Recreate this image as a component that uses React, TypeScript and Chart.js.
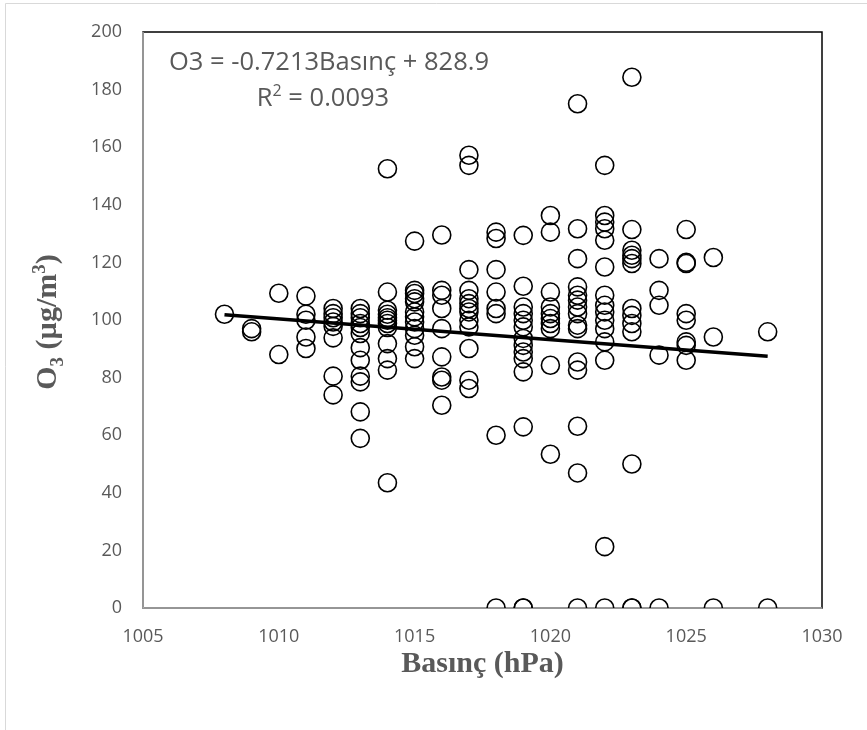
import React, { useEffect, useRef } from "react";
import { Chart, registerables } from "chart.js";

Chart.register(...registerables);

// Pressure levels (hPa) and the O3 readings (µg/m³) observed at each level
const pressureLevels = [1008, 1009, 1010, 1011, 1012, 1013, 1014, 1015, 1016, 1017, 1018, 1019, 1020, 1021, 1022, 1023, 1024, 1025, 1026, 1028];

const ozoneAtLevel: number[][] = [
  [102],
  [97, 95.9],
  [109.3, 88],
  [108.3, 102, 99.9, 94.1, 90.1],
  [104, 102.2, 100.8, 99.3, 97.8, 93.8, 80.5, 74],
  [104, 102.2, 100.8, 98.8, 97.4, 95.3, 90.4, 86, 80.5, 78.5, 68.1, 58.9],
  [152.5, 109.7, 103.4, 102, 100.8, 99.9, 98.8, 97.4, 91.8, 86.6, 82.6, 43.5],
  [127.4, 110.3, 109.2, 107.4, 106.3, 102.8, 101.1, 99.3, 97, 94.7, 90.7, 86.6],
  [129.5, 110.3, 108.6, 104, 97, 87.2, 80.2, 79.1, 70.4],
  [157.2, 153.7, 117.5, 110.3, 107.4, 105.7, 104, 102.8, 99.9, 97.6, 90.1, 79.1, 76.2],
  [130.5, 128.3, 117.5, 109.7, 104, 102.2, 60, 0],
  [129.4, 111.7, 104.5, 102.2, 99.9, 97.6, 93.6, 91.2, 88.9, 86.6, 82, 62.9, 0, 0],
  [136.3, 130.5, 109.7, 104.5, 102.2, 100.5, 98.8, 97, 84.3, 53.4],
  [175.1, 131.7, 121.3, 111.5, 108.6, 106.9, 104.5, 102.2, 98.2, 97, 85.4, 82.6, 63.1, 46.9, 0],
  [153.7, 136.3, 134, 131.7, 127.7, 118.4, 108.6, 105.1, 102.8, 99.9, 97, 92.4, 86, 21.3, 0],
  [184.3, 131.4, 124.2, 122.5, 121.3, 119.6, 104, 101.6, 98.8, 95.9, 50, 0, 0],
  [121.3, 110.3, 105.1, 87.8, 0],
  [131.4, 120, 119.6, 102.2, 99.9, 92.4, 91.2, 86],
  [121.7, 94.1, 0],
  [95.9, 0],
];

// Linear trend line reported on the chart
const trendSlope = -0.7213;
const trendIntercept = 828.9;
const equationText = "O3 = -0.7213Basınç + 828.9";
const rSquaredLabel = "R";
const rSquaredValue = " = 0.0093";

const xTicks = [1005, 1010, 1015, 1020, 1025, 1030];
const yTicks = [0, 20, 40, 60, 80, 100, 120, 140, 160, 180, 200];

const xTitle = "Basınç (hPa)";

const GRAY = "#595959";

export default function App() {
  const canvasRef = useRef<HTMLCanvasElement | null>(null);

  useEffect(() => {
    const canvas = canvasRef.current;
    if (!canvas) return;

    const points: { x: number; y: number }[] = [];
    pressureLevels.forEach((p, i) => {
      ozoneAtLevel[i].forEach((v) => points.push({ x: p, y: v }));
    });
    const minP = Math.min(...pressureLevels);
    const maxP = Math.max(...pressureLevels);
    const trend = [
      { x: minP, y: trendSlope * minP + trendIntercept },
      { x: maxP, y: trendSlope * maxP + trendIntercept },
    ];

    const decorPlugin = {
      id: "decor",
      beforeDraw(chart: any) {
        const { ctx, chartArea } = chart;
        ctx.save();
        ctx.fillStyle = "#ffffff";
        ctx.fillRect(0, 0, chart.width, chart.height);
        // faint outer frame
        ctx.strokeStyle = "#d9d9d9";
        ctx.lineWidth = 1;
        ctx.beginPath();
        ctx.moveTo(5.5, chart.height);
        ctx.lineTo(5.5, 3.5);
        ctx.lineTo(chart.width, 3.5);
        ctx.stroke();
        // plot area border
        ctx.strokeStyle = "#000000";
        ctx.lineWidth = 1.5;
        ctx.strokeRect(chartArea.left, chartArea.top, chartArea.right - chartArea.left, chartArea.bottom - chartArea.top);
        ctx.strokeStyle = "#b3b3b3";
        ctx.lineWidth = 1.5;
        ctx.beginPath();
        ctx.moveTo(chartArea.left, chartArea.top);
        ctx.lineTo(chartArea.left, chartArea.bottom);
        ctx.lineTo(chartArea.right, chartArea.bottom);
        ctx.stroke();
        ctx.restore();
      },
      afterDraw(chart: any) {
        const { ctx, chartArea } = chart;
        ctx.save();
        // equation
        ctx.fillStyle = GRAY;
        ctx.textBaseline = "alphabetic";
        ctx.textAlign = "center";
        ctx.font = '25.5px "Open Sans"';
        ctx.fillText(equationText, 329, 70);
        // R² line
        ctx.textAlign = "left";
        const wR = ctx.measureText(rSquaredLabel).width;
        ctx.font = '16px "Open Sans"';
        const w2 = ctx.measureText("2").width;
        ctx.font = '25.5px "Open Sans"';
        const wV = ctx.measureText(rSquaredValue).width;
        const x0 = 323 - (wR + w2 + wV) / 2;
        ctx.fillText(rSquaredLabel, x0, 106);
        ctx.font = '16px "Open Sans"';
        ctx.fillText("2", x0 + wR, 96);
        ctx.font = '25.5px "Open Sans"';
        ctx.fillText(rSquaredValue, x0 + wR + w2, 106);

        // X axis title
        ctx.textAlign = "center";
        ctx.font = 'bold 30px "Liberation Serif"';
        ctx.fillText(xTitle, (chartArea.left + chartArea.right) / 2, 672);

        // Y axis title with subscript/superscript
        ctx.textAlign = "left";
        ctx.translate(46, 322);
        ctx.rotate(-Math.PI / 2);
        const big = 'bold 30px "Liberation Serif"';
        const small = 'bold 19px "Liberation Serif"';
        const parts = [
          { t: "O", f: big, dy: 0 },
          { t: "3", f: small, dy: 7 },
          { t: " (µg/m", f: big, dy: 0 },
          { t: "3", f: small, dy: -11 },
          { t: ")", f: big, dy: 0 },
        ];
        let total = 0;
        parts.forEach((p) => {
          ctx.font = p.f;
          total += ctx.measureText(p.t).width;
        });
        let cx = -total / 2;
        parts.forEach((p) => {
          ctx.font = p.f;
          ctx.fillText(p.t, cx, 10 + p.dy);
          cx += ctx.measureText(p.t).width;
        });
        ctx.restore();
      },
    };

    const chart = new Chart(canvas, {
      type: "scatter",
      data: {
        datasets: [
          {
            type: "line",
            label: "trend",
            data: trend,
            borderColor: "#000000",
            borderWidth: 3.5,
            pointRadius: 0,
            fill: false,
            order: 0,
          } as any,
          {
            label: "O3",
            data: points,
            pointStyle: "circle",
            pointRadius: 9,
            pointBorderWidth: 1.6,
            borderColor: "#000000",
            backgroundColor: "rgba(0,0,0,0)",
            order: 1,
          },
        ],
      },
      options: {
        animation: false,
        responsive: false,
        maintainAspectRatio: false,
        layout: { padding: { left: 0, right: 45, top: 32, bottom: 0 } },
        plugins: {
          legend: { display: false },
          tooltip: { enabled: false },
        },
        scales: {
          x: {
            type: "linear",
            min: 1005,
            max: 1030,
            afterBuildTicks: (s: any) => {
              s.ticks = xTicks.map((v) => ({ value: v }));
            },
            afterFit: (s: any) => {
              s.height = 122;
            },
            grid: { display: false, drawTicks: false },
            border: { display: false },
            ticks: { color: GRAY, padding: 18, font: { family: '"Open Sans"', size: 18 }, callback: (v: any) => String(v) },
          },
          y: {
            type: "linear",
            min: 0,
            max: 200,
            afterBuildTicks: (s: any) => {
              s.ticks = yTicks.map((v) => ({ value: v }));
            },
            afterFit: (s: any) => {
              s.width = 143;
            },
            grid: { display: false, drawTicks: false },
            border: { display: false },
            ticks: { color: GRAY, padding: 21, font: { family: '"Open Sans"', size: 18 }, callback: (v: any) => String(v) },
          },
        },
      },
      plugins: [decorPlugin],
    });

    return () => chart.destroy();
  }, []);

  return (
    <div style={{ position: "absolute", left: 0, top: 0, width: 867, height: 730, background: "#fff" }}>
      <canvas ref={canvasRef} width={867} height={730} style={{ display: "block", width: 867, height: 730 }} />
    </div>
  );
}
